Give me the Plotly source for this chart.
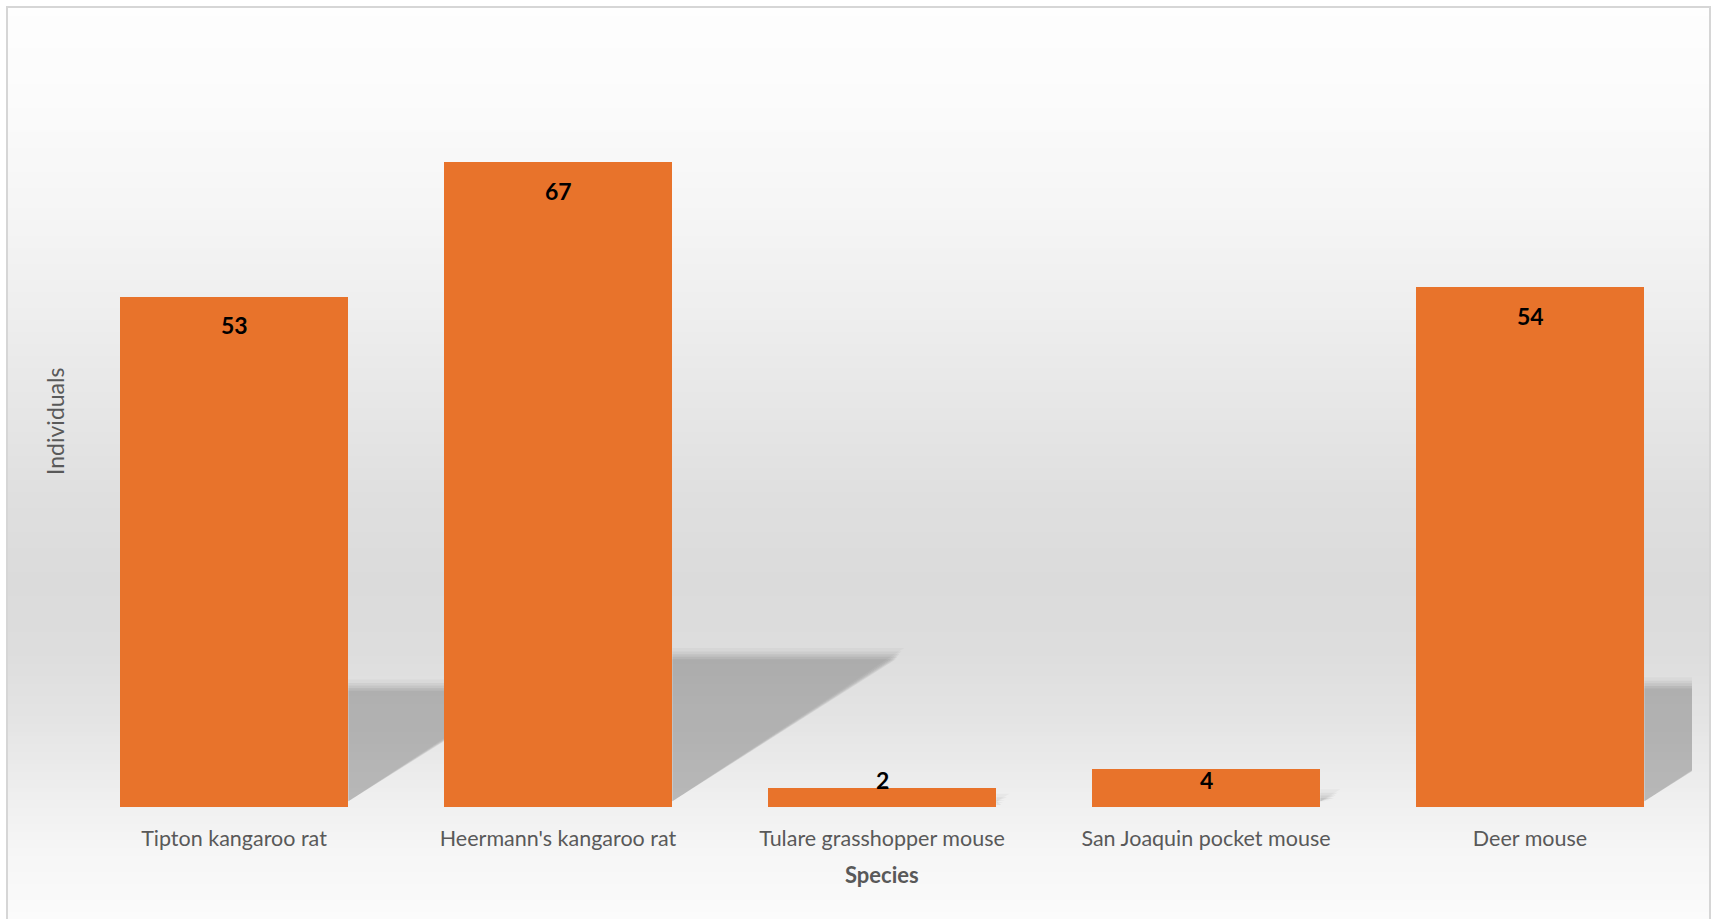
import plotly.graph_objects as go

# ---- data ----
species = ["Tipton kangaroo rat", "Heermann's kangaroo rat", "Tulare grasshopper mouse",
           "San Joaquin pocket mouse", "Deer mouse"]
individuals = [53, 67, 2, 4, 54]

# ---- layout constants ----
W, H = 1716, 919
ML, MR, MT, MB = 72, 24, 37, 112
PW, PH = W - ML - MR, H - MT - MB
YMAX = 80
BAR_W = 0.706
BAR_COLOR = "#E8732B"


def px_x(px):
    return (px - ML) / PW


def px_y(py):
    return (H - MB - py) / PH


xs = list(range(len(species)))

fig = go.Figure()
fig.add_trace(go.Bar(
    x=xs, y=individuals, width=BAR_W,
    marker=dict(color=BAR_COLOR, line=dict(width=0)),
    hoverinfo="x+y", showlegend=False,
))

shapes = []
# background gradient inside the chart border
stops = [(0, 254), (100, 251), (200, 246), (300, 239), (400, 231), (500, 223),
         (580, 219), (650, 221), (720, 228), (790, 238), (850, 246), (919, 251)]


def grey_at(py):
    for (y0, c0), (y1, c1) in zip(stops[:-1], stops[1:]):
        if y0 <= py <= y1:
            t = (py - y0) / (y1 - y0)
            return c0 + (c1 - c0) * t
    return stops[-1][1]


step = 4
py = 8
while py < H:
    c = int(round(grey_at(py + step / 2)))
    shapes.append(dict(type="rect", xref="paper", yref="paper", layer="below",
                       x0=px_x(8), x1=px_x(1710), y0=px_y(py), y1=px_y(py + step + 1),
                       fillcolor=f"rgb({c},{c},{c})", line=dict(width=0)))
    py += step

# border
shapes.append(dict(type="rect", xref="paper", yref="paper", layer="below",
                   x0=px_x(7), x1=px_x(1710), y0=px_y(H + 5), y1=px_y(7),
                   fillcolor="rgba(0,0,0,0)", line=dict(color="#d6d6d6", width=2)))

# perspective shadows derived from bar values (layered for a soft edge)
for i, v in enumerate(individuals):
    x1 = i + BAR_W / 2
    h = 0.233 * v
    d = 0.01038 * v
    for grow, alpha in [(0.02, 0.05), (0.012, 0.07), (0.006, 0.09), (0.0, 0.11), (-0.006, 0.10)]:
        gy = grow * 45
        path = (f"M {x1},{0.6} L {x1 + d + grow},{h + gy} "
                f"L {x1},{h + gy} Z")
        shapes.append(dict(type="path", xref="x", yref="y", layer="below", path=path,
                           fillcolor=f"rgba(90,90,90,{alpha})", line=dict(width=0)))

annotations = []
for i, v in enumerate(individuals):
    annotations.append(dict(x=i, y=max(v - 2.96, 2.85), xref="x", yref="y",
                            text=f"<b>{v}</b>", showarrow=False, yanchor="middle",
                            font=dict(family="Lato", size=23, color="#000000")))

annotations.append(dict(x=0.5, y=px_y(874), xref="paper", yref="paper",
                        text="<b>Species</b>", showarrow=False, yanchor="middle",
                        font=dict(family="Lato", size=22, color="#595959")))
annotations.append(dict(x=px_x(55), y=0.5, xref="paper", yref="paper",
                        text="Individuals", showarrow=False, textangle=-90,
                        xanchor="center", yanchor="middle",
                        font=dict(family="Lato", size=23, color="#595959")))

fig.update_layout(
    width=W, height=H,
    margin=dict(l=ML, r=MR, t=MT, b=MB, autoexpand=False),
    paper_bgcolor="white", plot_bgcolor="rgba(0,0,0,0)",
    shapes=shapes, annotations=annotations,
    bargap=0, showlegend=False,
    xaxis=dict(range=[-0.5, len(species) - 0.5], tickvals=xs, ticktext=species,
               showgrid=False, zeroline=False, showline=False,
               ticks="outside", ticklen=12, tickcolor="rgba(0,0,0,0)",
               tickfont=dict(family="Lato", size=21.5, color="#595959"),
               fixedrange=True),
    yaxis=dict(range=[0, YMAX], showticklabels=False, showgrid=False,
               zeroline=False, showline=False, fixedrange=True),
)

fig.write_html("out.html")
